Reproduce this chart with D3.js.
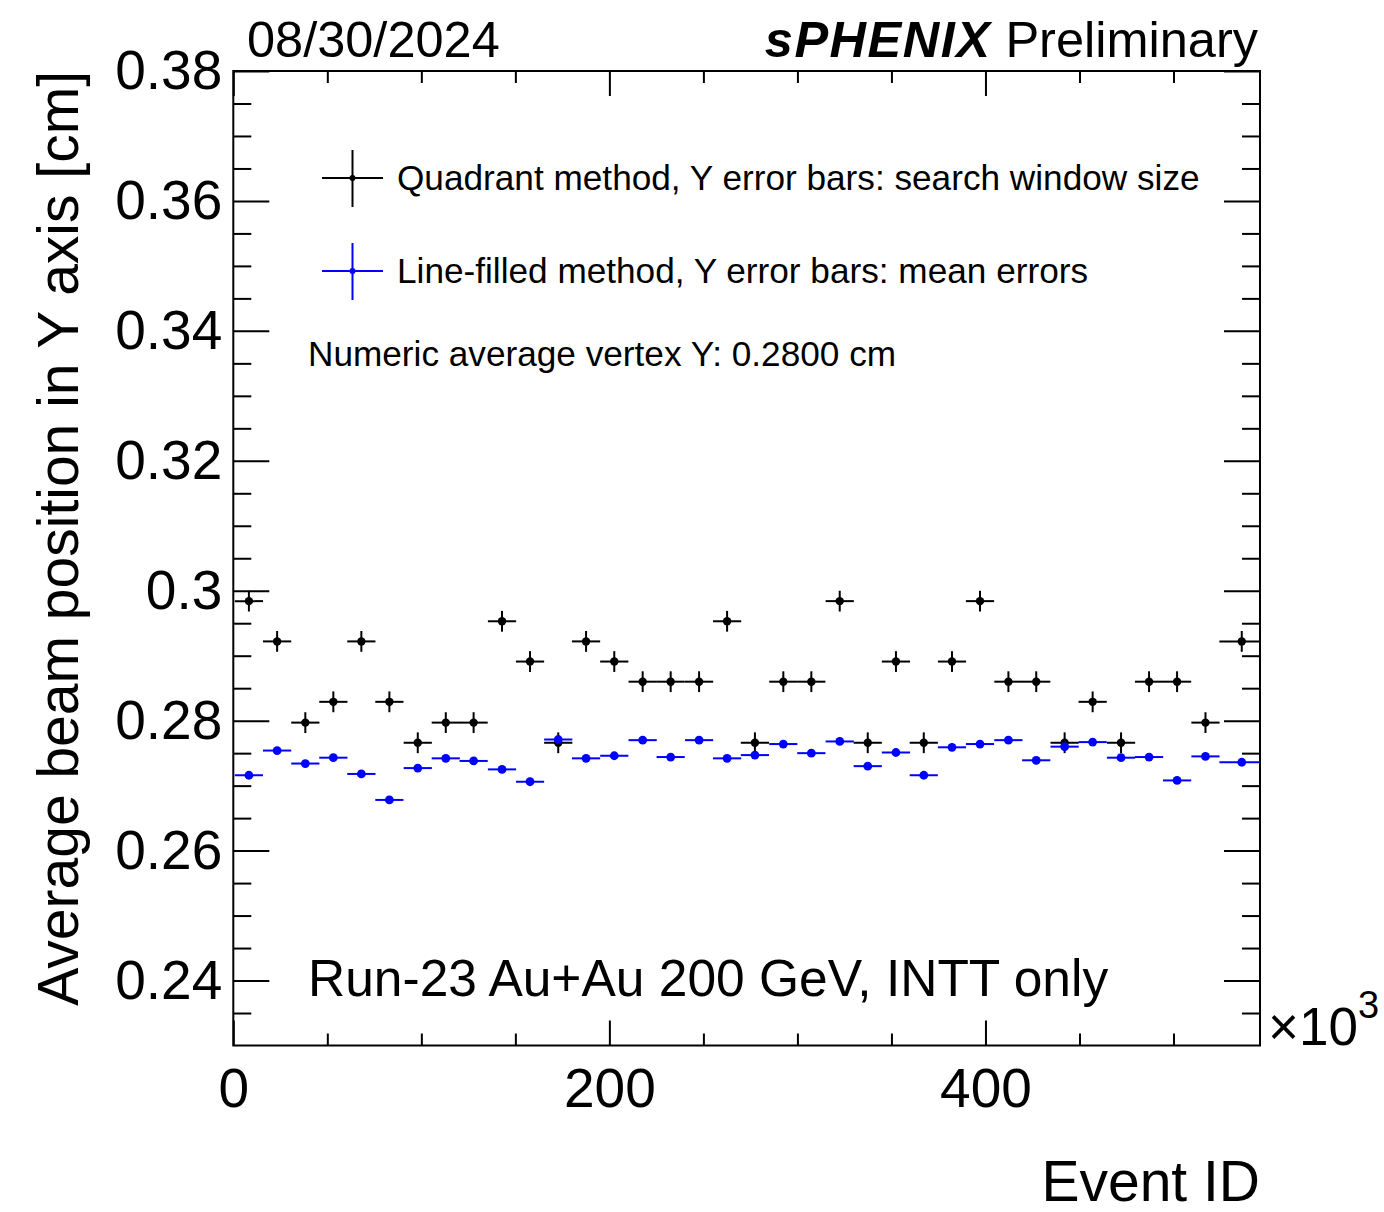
<!DOCTYPE html>
<html lang="en">
<head>
  <meta charset="UTF-8">
  <title>Average beam position in Y</title>
  <style>
    body { margin: 0; background: #fff; }
    svg { display: block; font-family: "Liberation Sans", Arial, Helvetica, sans-serif; }
  </style>
</head>
<body>
  <svg id="chart"></svg>
  <script src="https://cdn.jsdelivr.net/npm/d3@7"></script>
  <script>
    // event id bin centres, in units of 10^3
    var eventK = [8.3, 23.3, 38.3, 53.2, 68.1, 83.0, 98.1, 113.0, 127.8, 142.9, 157.8, 172.8,
      187.6, 202.6, 217.7, 232.6, 247.7, 262.6, 277.4, 292.5, 307.4, 322.5, 337.4, 352.4,
      367.2, 382.2, 397.1, 412.2, 427.0, 442.1, 457.0, 472.1, 487.0, 501.9, 517.0, 536.3];
    // half widths of each event group (x error bars), 10^3
    var eventHalfK = [7.5, 7.5, 7.5, 7.5, 7.5, 7.5, 7.5, 7.5, 7.5, 7.5, 7.5, 7.5,
      7.5, 7.5, 7.5, 7.5, 7.5, 7.5, 7.5, 7.5, 7.5, 7.5, 7.5, 7.5,
      7.5, 7.5, 7.5, 7.5, 7.5, 7.5, 7.5, 7.5, 7.5, 7.5, 7.5, 11.9];

    var quadrantY = [0.2984, 0.2922, 0.2797, 0.2829, 0.2922, 0.2829, 0.2766, 0.2797, 0.2797, 0.2953, 0.2891, 0.2766,
      0.2922, 0.2891, 0.2860, 0.2860, 0.2860, 0.2953, 0.2766, 0.2860, 0.2860, 0.2984, 0.2766, 0.2891,
      0.2766, 0.2891, 0.2984, 0.2860, 0.2860, 0.2766, 0.2829, 0.2766, 0.2860, 0.2860, 0.2797, 0.2922];
    var quadrantErr = 0.0016; // search window half size

    var lineFilledY = [0.2716, 0.2754, 0.2734, 0.2743, 0.2718, 0.2678, 0.2727, 0.2742, 0.2738, 0.2725, 0.2706, 0.2771,
      0.2742, 0.2746, 0.2770, 0.2744, 0.2770, 0.2742, 0.2747, 0.2764, 0.2750, 0.2768, 0.2730, 0.2751,
      0.2716, 0.2759, 0.2764, 0.2770, 0.2739, 0.2760, 0.2767, 0.2743, 0.2744, 0.2708, 0.2745, 0.2736];
    var lineFilledErr = 0.00005;

    var xMajor = [0, 200, 400];
    var xMinor = [50, 100, 150, 250, 300, 350, 450, 500];
    var yMajor = [0.24, 0.26, 0.28, 0.30, 0.32, 0.34, 0.36, 0.38];
    var yMinor = [0.235, 0.245, 0.25, 0.255, 0.265, 0.27, 0.275, 0.285, 0.29, 0.295,
      0.305, 0.31, 0.315, 0.325, 0.33, 0.335, 0.345, 0.35, 0.355, 0.365, 0.37, 0.375];

    var W = 1384, H = 1212;
    var pLeft = 233.3, pRight = 1260, pTop = 71, pBottom = 1045.5;
    var font = '"Liberation Sans", Arial, Helvetica, sans-serif';

    var svg = d3.select('#chart').attr('width', W).attr('height', H);

    var x = d3.scaleLinear().domain([0, 546]).range([pLeft, pRight]);
    var y = d3.scaleLinear().domain([0.23, 0.38]).range([pBottom, pTop]);

    svg.append('clipPath').attr('id', 'plot-clip')
      .append('rect').attr('x', pLeft).attr('y', pTop)
      .attr('width', pRight - pLeft).attr('height', pBottom - pTop);

    function styleAxis(g) {
      g.select('.domain').remove();
      g.selectAll('line').attr('stroke', '#000').attr('stroke-width', 2);
      g.selectAll('text').attr('font-family', font).attr('font-size', 55).attr('fill', '#000');
    }

    // bottom axis
    svg.append('g').attr('transform', 'translate(0,' + pBottom + ')')
      .call(d3.axisBottom(x).tickValues(xMajor).tickSizeInner(-25).tickSizeOuter(0).tickPadding(22)
        .tickFormat(d3.format('d')))
      .call(styleAxis);
    svg.append('g').attr('transform', 'translate(0,' + pBottom + ')')
      .call(d3.axisBottom(x).tickValues(xMinor).tickSizeInner(-12).tickSizeOuter(0).tickFormat(''))
      .call(styleAxis);
    // top axis (mirror)
    svg.append('g').attr('transform', 'translate(0,' + pTop + ')')
      .call(d3.axisTop(x).tickValues(xMajor).tickSizeInner(-25).tickSizeOuter(0).tickFormat(''))
      .call(styleAxis);
    svg.append('g').attr('transform', 'translate(0,' + pTop + ')')
      .call(d3.axisTop(x).tickValues(xMinor).tickSizeInner(-12).tickSizeOuter(0).tickFormat(''))
      .call(styleAxis);

    // left axis
    svg.append('g').attr('transform', 'translate(' + pLeft + ',0)')
      .call(d3.axisLeft(y).tickValues(yMajor).tickSizeInner(-36).tickSizeOuter(0).tickPadding(11)
        .tickFormat(function (d) { return d3.format('.2f')(d).replace(/0$/, ''); }))
      .call(styleAxis);
    svg.append('g').attr('transform', 'translate(' + pLeft + ',0)')
      .call(d3.axisLeft(y).tickValues(yMinor).tickSizeInner(-18).tickSizeOuter(0).tickFormat(''))
      .call(styleAxis);
    // right axis (mirror)
    svg.append('g').attr('transform', 'translate(' + pRight + ',0)')
      .call(d3.axisRight(y).tickValues(yMajor).tickSizeInner(-36).tickSizeOuter(0).tickFormat(''))
      .call(styleAxis);
    svg.append('g').attr('transform', 'translate(' + pRight + ',0)')
      .call(d3.axisRight(y).tickValues(yMinor).tickSizeInner(-18).tickSizeOuter(0).tickFormat(''))
      .call(styleAxis);

    // frame
    svg.append('rect').attr('x', pLeft).attr('y', pTop)
      .attr('width', pRight - pLeft).attr('height', pBottom - pTop)
      .attr('fill', 'none').attr('stroke', '#000').attr('stroke-width', 2);

    // data points with error bars
    function drawSeries(values, err, color, r) {
      var rows = values.map(function (v, i) {
        return { x: eventK[i], xe: eventHalfK[i], y: v, ye: err };
      });
      var g = svg.append('g').attr('clip-path', 'url(#plot-clip)');
      var pt = g.selectAll('g.pt').data(rows).enter().append('g').attr('class', 'pt');
      pt.append('line')
        .attr('x1', function (d) { return x(d.x - d.xe); })
        .attr('x2', function (d) { return x(d.x + d.xe); })
        .attr('y1', function (d) { return y(d.y); })
        .attr('y2', function (d) { return y(d.y); })
        .attr('stroke', color).attr('stroke-width', 2);
      pt.append('line')
        .attr('x1', function (d) { return x(d.x); })
        .attr('x2', function (d) { return x(d.x); })
        .attr('y1', function (d) { return y(d.y - d.ye); })
        .attr('y2', function (d) { return y(d.y + d.ye); })
        .attr('stroke', color).attr('stroke-width', 2);
      pt.append('circle')
        .attr('cx', function (d) { return x(d.x); })
        .attr('cy', function (d) { return y(d.y); })
        .attr('r', r).attr('fill', color);
    }
    drawSeries(quadrantY, quadrantErr, '#000', 4.2);
    drawSeries(lineFilledY, lineFilledErr, '#0000ff', 4.4);

    // legend
    var legend = [
      { label: 'Quadrant method, Y error bars: search window size', color: '#000', cy: 178 },
      { label: 'Line-filled method, Y error bars: mean errors', color: '#0000ff', cy: 271 }
    ];
    legend.forEach(function (d) {
      var lg = svg.append('g');
      lg.append('line').attr('x1', 322).attr('x2', 383).attr('y1', d.cy).attr('y2', d.cy)
        .attr('stroke', d.color).attr('stroke-width', 2);
      lg.append('line').attr('x1', 352.5).attr('x2', 352.5).attr('y1', d.cy - 28).attr('y2', d.cy + 29)
        .attr('stroke', d.color).attr('stroke-width', 2);
      lg.append('circle').attr('cx', 352.5).attr('cy', d.cy).attr('r', 3).attr('fill', d.color);
      lg.append('text').attr('x', 397).attr('y', d.cy + 12)
        .attr('font-size', 35.2).attr('fill', '#000').text(d.label);
    });

    svg.append('text').attr('x', 308).attr('y', 366).attr('font-size', 35.2)
      .text('Numeric average vertex Y: 0.2800 cm');
    svg.append('text').attr('x', 308).attr('y', 996).attr('font-size', 51.5)
      .text('Run-23 Au+Au 200 GeV, INTT only');

    // header
    svg.append('text').attr('x', 247).attr('y', 57).attr('font-size', 50.5).text('08/30/2024');
    var hdr = svg.append('text').attr('x', 1258).attr('y', 57).attr('font-size', 50.5)
      .attr('text-anchor', 'end');
    hdr.append('tspan').attr('font-weight', 'bold').attr('font-style', 'italic')
      .attr('letter-spacing', 1.5).text('sPHENIX');
    hdr.append('tspan').text('\u00a0Preliminary');

    // axis titles
    svg.append('text').attr('x', 1260).attr('y', 1201).attr('font-size', 57)
      .attr('text-anchor', 'end').text('Event ID');
    svg.append('text').attr('transform', 'translate(78,' + pTop + ') rotate(-90)')
      .attr('font-size', 57).attr('text-anchor', 'end')
      .text('Average beam position in Y axis [cm]');

    // x10^3 multiplier
    var mult = svg.append('text').attr('x', 1268).attr('y', 1045).attr('font-size', 53);
    mult.append('tspan').text('\u00d710');
    mult.append('tspan').attr('dy', -27).attr('font-size', 38).text('3');
  </script>
</body>
</html>
